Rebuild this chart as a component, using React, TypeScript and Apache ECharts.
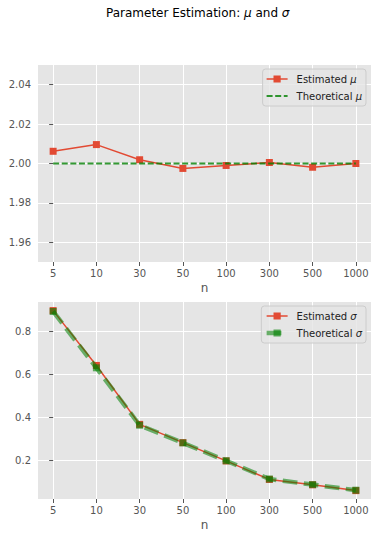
import React, { useEffect, useRef } from "react";
import * as echarts from "echarts";

const nLabels = ["5", "10", "30", "50", "100", "300", "500", "1000"];
const muEstimated = [2.0062, 2.0096, 2.0019, 1.9975, 1.999, 2.0005, 1.9981, 2.0];
const muTheoretical = [2.0, 2.0, 2.0, 2.0, 2.0, 2.0, 2.0, 2.0];
const sigmaEstimated = [0.898, 0.643, 0.369, 0.284, 0.199, 0.113, 0.088, 0.061];
const sigmaTheoretical = [0.894, 0.632, 0.365, 0.283, 0.2, 0.115, 0.089, 0.063];
const muTicks = [1.96, 1.98, 2.0, 2.02, 2.04];
const sigmaTicks = [0.2, 0.4, 0.6, 0.8];

const FONT = "DejaVu Sans";
const RED = "#E24A33";
const GREEN = "#008000";

export default function App() {
  const ref = useRef<HTMLDivElement>(null);

  useEffect(() => {
    if (!ref.current) return;
    const chart = echarts.init(ref.current, undefined, { renderer: "svg" });
    const idx = nLabels.map((_, i) => i);
    const pairs = (arr: number[]) => arr.map((v, i) => [i, v]);

    const xAxisBase = (gridIndex: number) => ({
      type: "value",
      gridIndex,
      min: -0.35,
      max: 7.35,
      axisLine: { show: false },
      axisTick: { show: true, length: 4, lineStyle: { color: "#555555" }, customValues: idx },
      axisLabel: {
        customValues: idx,
        formatter: (v: number) => nLabels[Math.round(v)],
        color: "#555555",
        fontSize: 10,
        fontFamily: FONT,
        margin: 6,
      },
      splitLine: { show: true, lineStyle: { color: "#ffffff", width: 1 } },
      name: "n",
      nameLocation: "middle",
      nameGap: 20,
      nameTextStyle: { fontSize: 12, color: "#555555", fontFamily: FONT },
    });

    const yAxisBase = (gridIndex: number, min: number, max: number, ticks: number[], dec: number) => ({
      type: "value",
      gridIndex,
      min,
      max,
      axisLine: { show: false },
      axisTick: { show: true, length: 4, lineStyle: { color: "#555555" }, customValues: ticks },
      axisLabel: {
        customValues: ticks,
        formatter: (v: number) => v.toFixed(dec),
        color: "#555555",
        fontSize: 10,
        fontFamily: FONT,
        margin: 7,
      },
      splitLine: { show: true, lineStyle: { color: "#ffffff", width: 1 } },
    });

    const legendBase = (top: number, data: any[]) => ({
      orient: "vertical",
      right: 12,
      top,
      padding: [5, 4, 5, 3],
      itemWidth: 21,
      itemHeight: 9,
      itemGap: 7,
      backgroundColor: "rgba(229,229,229,0.8)",
      borderColor: "#cccccc",
      borderWidth: 1,
      borderRadius: 3,
      data,
      formatter: (name: string) => name.replace(/(μ|σ)/, "{i|$1}"),
      textStyle: {
        fontSize: 10,
        fontFamily: FONT,
        color: "#222222",
        padding: [0, 0, 0, 4],
        rich: { i: { fontSize: 10, fontFamily: FONT, fontStyle: "italic", color: "#222222" } },
      },
    });

    chart.setOption({
      animation: false,
      backgroundColor: "#ffffff",
      title: {
        text: "{a|Parameter Estimation: }{i|μ}{a| and }{i|σ}",
        left: 106,
        top: 7,
        padding: 0,
        textStyle: {
          fontSize: 12,
          fontFamily: FONT,
          color: "#000000",
          fontWeight: "normal",
          rich: {
            a: { fontSize: 12, fontFamily: FONT, color: "#000000" },
            i: { fontSize: 12, fontFamily: FONT, color: "#000000", fontStyle: "italic" },
          },
        },
      },
      grid: [
        { left: 38, top: 65, width: 333, height: 197, show: true, backgroundColor: "#E5E5E5", borderWidth: 0 },
        { left: 38, top: 302, width: 333, height: 197, show: true, backgroundColor: "#E5E5E5", borderWidth: 0 },
      ],
      xAxis: [xAxisBase(0), xAxisBase(1)],
      yAxis: [
        yAxisBase(0, 1.95, 2.05, muTicks, 2),
        yAxisBase(1, 0.022, 0.938, sigmaTicks, 1),
      ],
      legend: [
        legendBase(69, [
          { name: "Estimated μ", lineStyle: { width: 1.5 } },
          { name: "Theoretical μ", lineStyle: { width: 2 }, itemStyle: { opacity: 0 } },
        ]),
        legendBase(306, [
          { name: "Estimated σ", lineStyle: { width: 1.5 } },
          { name: "Theoretical σ", lineStyle: { width: 4.5 } },
        ]),
      ],
      series: [
        {
          name: "Estimated μ",
          type: "line",
          xAxisIndex: 0,
          yAxisIndex: 0,
          data: pairs(muEstimated),
          symbol: "rect",
          symbolSize: 7,
          lineStyle: { color: RED, width: 1.5 },
          itemStyle: { color: RED },
          z: 2,
        },
        {
          name: "Theoretical μ",
          type: "line",
          xAxisIndex: 0,
          yAxisIndex: 0,
          data: pairs(muTheoretical),
          symbol: "rect",
          showSymbol: false,
          lineStyle: { color: GREEN, width: 2, type: [6, 2.6], opacity: 0.8 },
          itemStyle: { color: GREEN, opacity: 0.8 },
          z: 3,
        },
        {
          name: "Estimated σ",
          type: "line",
          xAxisIndex: 1,
          yAxisIndex: 1,
          data: pairs(sigmaEstimated),
          symbol: "rect",
          symbolSize: 7,
          lineStyle: { color: RED, width: 1.5 },
          itemStyle: { color: RED },
          z: 2,
        },
        {
          name: "Theoretical σ",
          type: "line",
          xAxisIndex: 1,
          yAxisIndex: 1,
          data: pairs(sigmaTheoretical),
          symbol: "rect",
          symbolSize: 7,
          lineStyle: { color: GREEN, width: 4.5, type: [14.8, 6.4], opacity: 0.55 },
          itemStyle: { color: GREEN, opacity: 0.6 },
          z: 3,
        },
      ],
    });

    return () => chart.dispose();
  }, []);

  return (
    <div
      ref={ref}
      style={{ position: "absolute", left: 0, top: 0, width: 378, height: 540 }}
    />
  );
}
